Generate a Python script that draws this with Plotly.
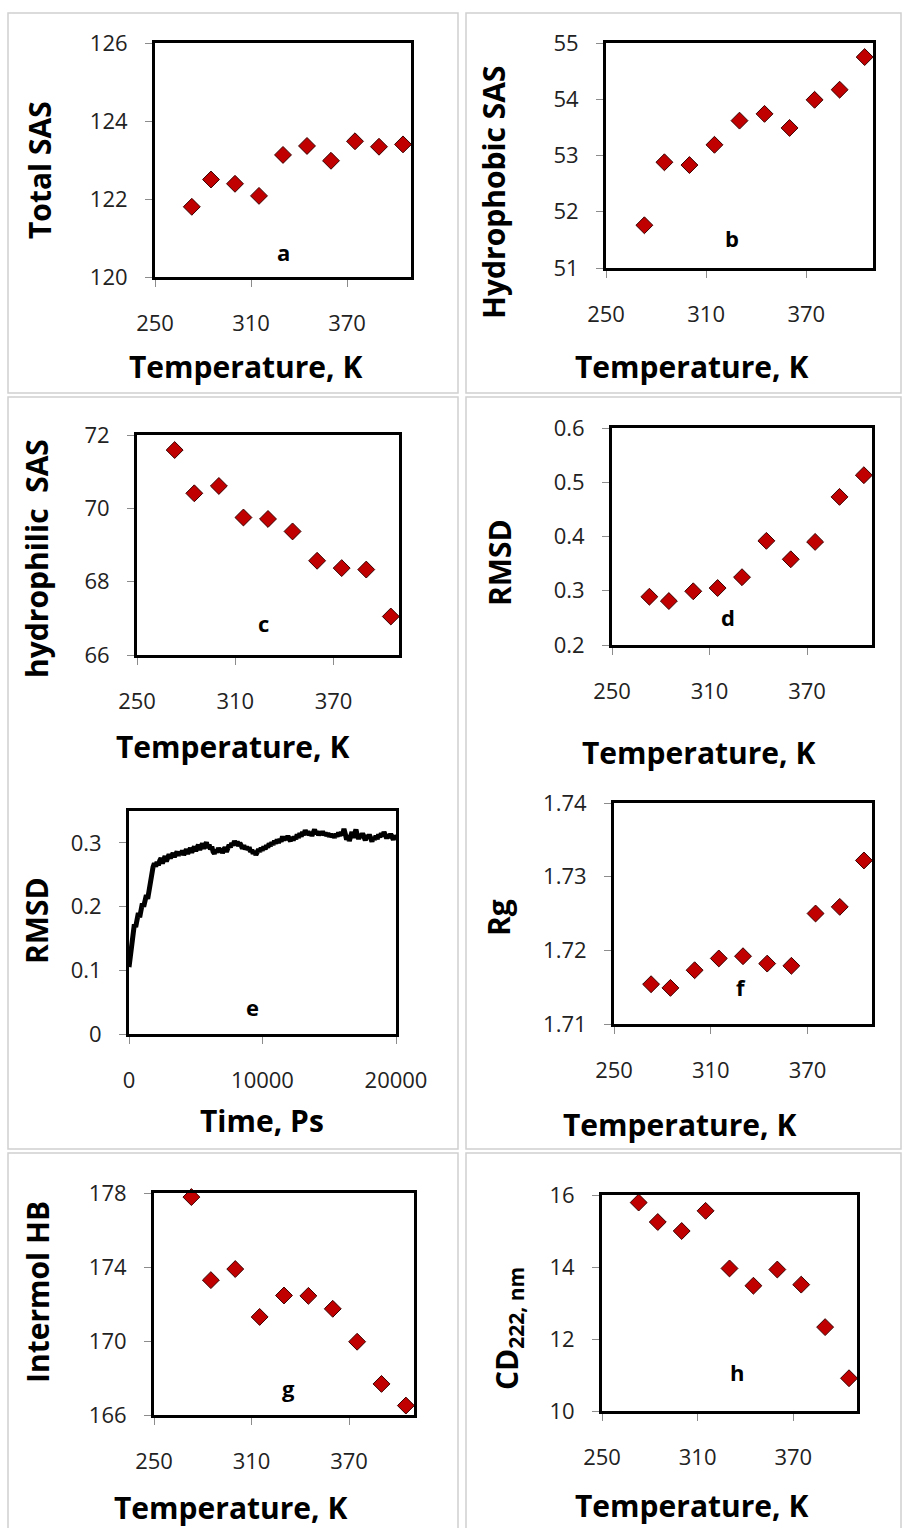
import plotly.graph_objects as go

# ---------------- data ----------------
temperature_K = [273, 285, 300, 315, 330, 345, 360, 375, 390, 405]
total_sas = [121.80, 122.50, 122.39, 122.08, 123.13, 123.36, 122.98, 123.48, 123.34, 123.40]
hydrophobic_sas = [51.76, 52.88, 52.83, 53.19, 53.62, 53.74, 53.49, 53.99, 54.17, 54.75]
hydrophilic_sas = [71.59, 70.41, 70.61, 69.75, 69.71, 69.37, 68.57, 68.37, 68.33, 67.05]
rmsd_vs_T = [0.289, 0.281, 0.299, 0.305, 0.325, 0.392, 0.358, 0.390, 0.473, 0.513]
rg_vs_T = [1.7154, 1.7149, 1.7173, 1.7189, 1.7192, 1.7182, 1.7179, 1.7250, 1.7259, 1.7322]
intermol_hb = [177.78, 173.29, 173.89, 171.30, 172.46, 172.44, 171.74, 169.96, 167.68, 166.51]
cd222 = [15.79, 15.25, 15.00, 15.56, 13.96, 13.48, 13.93, 13.51, 12.33, 10.91]

time_ps = list(range(0, 20001, 100))
rmsd_time = [
    0.105, 0.125, 0.140, 0.155, 0.172, 0.168, 0.185, 0.190, 0.183, 0.198,
    0.205, 0.200, 0.214, 0.218, 0.212, 0.228, 0.240, 0.252, 0.262, 0.268,
    0.263, 0.270, 0.265, 0.272, 0.276, 0.268, 0.275, 0.279, 0.271, 0.277,
    0.282, 0.276, 0.280, 0.284, 0.278, 0.283, 0.286, 0.280, 0.285, 0.282,
    0.288, 0.281, 0.286, 0.290, 0.283, 0.288, 0.292, 0.285, 0.290, 0.294,
    0.287, 0.293, 0.297, 0.289, 0.294, 0.299, 0.291, 0.296, 0.301, 0.292,
    0.297, 0.290, 0.294, 0.286, 0.283, 0.289, 0.285, 0.292, 0.287, 0.291,
    0.284, 0.289, 0.293, 0.286, 0.292, 0.297, 0.293, 0.300, 0.296, 0.303,
    0.298, 0.302, 0.295, 0.300, 0.296, 0.291, 0.296, 0.290, 0.294, 0.289,
    0.293, 0.286, 0.289, 0.283, 0.287, 0.281, 0.285, 0.290, 0.286, 0.292,
    0.288, 0.294, 0.290, 0.296, 0.293, 0.299, 0.295, 0.301, 0.297, 0.303,
    0.299, 0.305, 0.300, 0.306, 0.302, 0.310, 0.304, 0.309, 0.305, 0.311,
    0.306, 0.303, 0.309, 0.304, 0.310, 0.306, 0.313, 0.308, 0.315, 0.310,
    0.317, 0.312, 0.320, 0.314, 0.318, 0.312, 0.317, 0.311, 0.316, 0.321,
    0.314, 0.318, 0.312, 0.317, 0.313, 0.318, 0.312, 0.316, 0.311, 0.315,
    0.310, 0.314, 0.309, 0.313, 0.308, 0.314, 0.310, 0.316, 0.311, 0.317,
    0.312, 0.322, 0.314, 0.305, 0.312, 0.303, 0.310, 0.317, 0.308, 0.315,
    0.321, 0.312, 0.306, 0.314, 0.308, 0.315, 0.310, 0.304, 0.312, 0.307,
    0.313, 0.308, 0.302, 0.309, 0.305, 0.311, 0.306, 0.313, 0.309, 0.315,
    0.311, 0.317, 0.312, 0.307, 0.313, 0.308, 0.314, 0.309, 0.305, 0.311,
    0.308,
]

W, H = 904, 1528
FONT = "Open Sans"

panels = [
    dict(box=(155, 411, 43, 277), yr=(120, 126), dy=2, yfmt="d", ytitle="Total SAS", yt=(39, 170),
         xtitle="Temperature, K", xt=(246, 366), lab="a", lp=(283, 252), y=total_sas),
    dict(box=(606, 873, 43, 268), yr=(51, 55), dy=1, yfmt="d", ytitle="Hydrophobic SAS", yt=(493, 192),
         xtitle="Temperature, K", xt=(691, 366), lab="b", lp=(732, 238), y=hydrophobic_sas),
    dict(box=(137, 399, 435, 655), yr=(66, 72), dy=2, yfmt="d", ytitle="hydrophilic  SAS", yt=(37, 559),
         xtitle="Temperature, K", xt=(232, 746), lab="c", lp=(263, 623), y=hydrophilic_sas),
    dict(box=(612, 872, 428, 645), yr=(0.2, 0.6), dy=0.1, yfmt=".1f", ytitle="RMSD", yt=(499, 563),
         xtitle="Temperature, K", xt=(698, 752), lab="d", lp=(728, 617), y=rmsd_vs_T),
    dict(box=(129, 396, 811, 1034), yr=(0, 0.35), dy=0.1, yfmt="", ytitle="RMSD", yt=(36, 921),
         xtitle="Time, Ps", xt=(262, 1120), lab="e", lp=(252, 1007), y=None),
    dict(box=(614, 872, 803, 1024), yr=(1.71, 1.74), dy=0.01, yfmt=".2f", ytitle="Rg", yt=(498, 918),
         xtitle="Temperature, K", xt=(679, 1124), lab="f", lp=(741, 987), y=rg_vs_T),
    dict(box=(154, 414, 1193, 1415), yr=(166, 178), dy=4, yfmt="d", ytitle="Intermol HB", yt=(37, 1292),
         xtitle="Temperature, K", xt=(230, 1507), lab="g", lp=(288, 1388), y=intermol_hb),
    dict(box=(602, 857, 1195, 1411), yr=(10, 16), dy=2, yfmt="d", ytitle="CD<sub>222, nm</sub>", yt=(508, 1329),
         xtitle="Temperature, K", xt=(691, 1505), lab="h", lp=(737, 1372), y=cd222),
]

fig = go.Figure()
layout = dict(
    template="none",
    width=W, height=H, margin=dict(l=0, r=0, t=0, b=0, autoexpand=False),
    paper_bgcolor="white", plot_bgcolor="white", showlegend=False,
    font=dict(family=FONT, color="#222222"),
)
annotations = []
shapes = []

for i, p in enumerate(panels, start=1):
    x0, x1, y0, y1 = p["box"]
    xa = "xaxis" if i == 1 else f"xaxis{i}"
    ya = "yaxis" if i == 1 else f"yaxis{i}"
    xref = "x" if i == 1 else f"x{i}"
    yref = "y" if i == 1 else f"y{i}"
    is_time = p["y"] is None
    common = dict(showgrid=False, zeroline=False, showline=True, linecolor="black", linewidth=3,
                  mirror=True, ticks="outside", ticklen=7, tickcolor="#8c8c8c", tickwidth=1,
                  automargin=False,
                  tickfont=dict(family=FONT, size=22, color="#222222"), fixedrange=True)
    if is_time:
        layout[xa] = dict(common, domain=[x0 / W, x1 / W], range=[0, 20000], tick0=0, dtick=10000,
                          tickformat="d", anchor=yref, ticklabelstandoff=18)
    else:
        layout[xa] = dict(common, domain=[x0 / W, x1 / W], range=[250, 410], tick0=250, dtick=60,
                          tickformat="d", anchor=yref, ticklabelstandoff=18)
    ydict = dict(common, domain=[1 - y1 / H, 1 - y0 / H], range=list(p["yr"]), tick0=p["yr"][0],
                 dtick=p["dy"], anchor=xref, ticklabelstandoff=13)
    if p["yfmt"]:
        ydict["tickformat"] = p["yfmt"]
    layout[ya] = ydict
    if is_time:
        fig.add_trace(go.Scatter(x=time_ps, y=rmsd_time, mode="lines", xaxis=xref, yaxis=yref,
                                 line=dict(color="black", width=5), hoverinfo="skip"))
    else:
        fig.add_trace(go.Scatter(x=temperature_K, y=p["y"], mode="markers", xaxis=xref, yaxis=yref,
                                 cliponaxis=False,
                                 marker=dict(symbol="diamond", size=13, color="#C00000",
                                             line=dict(color="#3a0000", width=1))))
    annotations.append(dict(text=f"<b>{p['ytitle']}</b>", xref="paper", yref="paper",
                            x=p["yt"][0] / W, y=1 - p["yt"][1] / H, xanchor="center", yanchor="middle",
                            textangle=-90, showarrow=False, font=dict(family=FONT, size=30, color="black")))
    annotations.append(dict(text=f"<b>{p['xtitle']}</b>", xref="paper", yref="paper",
                            x=p["xt"][0] / W, y=1 - p["xt"][1] / H, xanchor="center", yanchor="middle",
                            showarrow=False, font=dict(family=FONT, size=30, color="black")))
    annotations.append(dict(text=f"<b>{p['lab']}</b>", xref="paper", yref="paper",
                            x=p["lp"][0] / W, y=1 - p["lp"][1] / H, xanchor="center", yanchor="middle",
                            showarrow=False, font=dict(family=FONT, size=22, color="black")))

cells = [(8, 458, 13, 393), (466, 901, 13, 393),
         (8, 458, 397, 1149), (466, 901, 397, 1149),
         (8, 458, 1153, 1540), (466, 901, 1153, 1540)]
for cx0, cx1, cy0, cy1 in cells:
    shapes.append(dict(type="rect", xref="paper", yref="paper",
                       x0=cx0 / W, x1=cx1 / W, y0=1 - cy1 / H, y1=1 - cy0 / H,
                       line=dict(color="#d0d0d0", width=1.5), layer="below"))

layout["annotations"] = annotations
layout["shapes"] = shapes
fig.update_layout(**layout)
fig.write_html("out.html")
